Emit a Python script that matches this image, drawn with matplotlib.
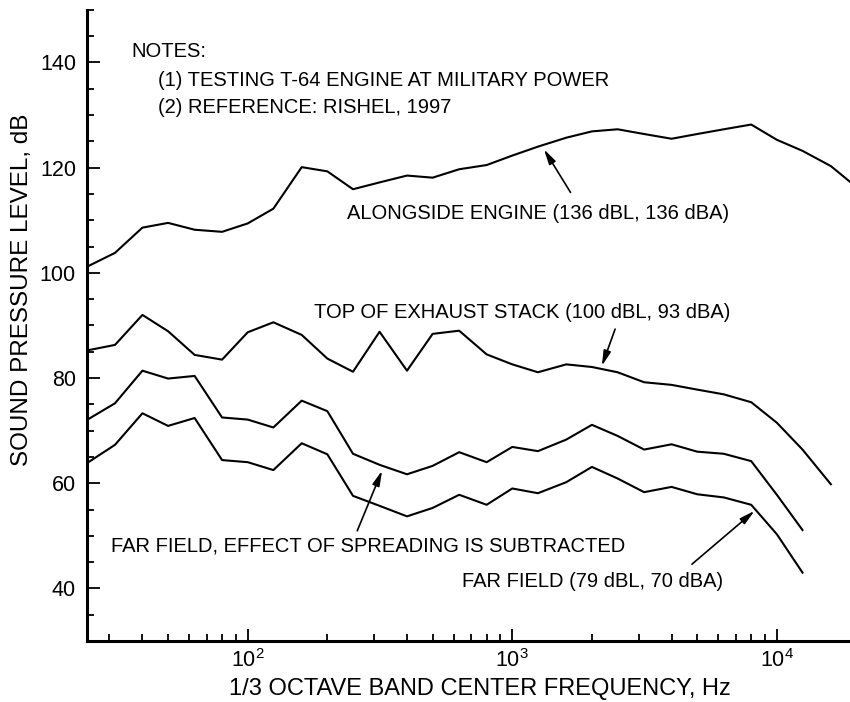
import matplotlib
matplotlib.use('Agg')
import matplotlib.pyplot as plt
from matplotlib.ticker import FixedLocator, LogLocator, MultipleLocator, NullFormatter

plt.rcParams['font.family'] = ['Liberation Sans', 'DejaVu Sans']
plt.rcParams['mathtext.default'] = 'regular'

# 1/3 octave band centre frequencies (Hz)
freq = [25, 31.5, 40, 50, 63, 80, 100, 125, 160, 200, 250, 315, 400, 500,
        630, 800, 1000, 1250, 1600, 2000, 2500, 3150, 4000, 5000, 6300,
        8000, 10000, 12500, 16000, 20000]

# sound pressure levels (dB)
alongside = [101.3, 103.8, 108.6, 109.5, 108.2, 107.8, 109.4, 112.2, 120.1,
             119.3, 115.9, 117.2, 118.5, 118.1, 119.7, 120.5, 122.3, 124.0,
             125.7, 126.9, 127.3, 126.4, 125.5, 126.4, 127.3, 128.2, 125.3,
             123.2, 120.3, 116.3]
exhaust = [85.3, 86.3, 92.0, 88.9, 84.4, 83.5, 88.7, 90.6, 88.2, 83.7, 81.2,
           88.8, 81.4, 88.4, 89.0, 84.5, 82.6, 81.1, 82.6, 82.1, 81.1, 79.2,
           78.7, 77.8, 76.9, 75.4, 71.5, 66.4, 59.8]
far_subtracted = [72.2, 75.2, 81.4, 79.9, 80.4, 72.5, 72.1, 70.6, 75.7, 73.7,
                  65.6, 63.5, 61.7, 63.3, 65.9, 64.0, 66.9, 66.1, 68.3, 71.1,
                  69.0, 66.4, 67.4, 66.0, 65.6, 64.2, 57.8, 51.1]
far_field = [64.0, 67.3, 73.3, 70.9, 72.4, 64.4, 64.0, 62.5, 67.6, 65.5, 57.6,
             55.7, 53.7, 55.3, 57.8, 55.9, 59.0, 58.1, 60.2, 63.1, 60.9, 58.3,
             59.3, 57.9, 57.3, 55.9, 50.3, 43.0]

y_ticks = [40, 60, 80, 100, 120, 140]
x_ticks = [100, 1000, 10000]
x_labels = ['$10^2$', '$10^3$', '$10^4$']

fig = plt.figure(figsize=(8.5, 7.02), dpi=100)
ax = fig.add_axes([0.1024, 0.0869, 0.8976, 0.899])

for series in [alongside, exhaust, far_subtracted, far_field]:
    ax.plot(freq[:len(series)], series, color='black', lw=1.5)

ax.set_xscale('log')
ax.set_xlim(24.7, 18900)
ax.set_ylim(30, 150)

ax.spines['top'].set_visible(False)
ax.spines['right'].set_visible(False)
ax.spines['left'].set_linewidth(2.2)
ax.spines['bottom'].set_linewidth(2.2)

ax.xaxis.set_major_locator(FixedLocator(x_ticks))
ax.set_xticklabels(x_labels)
ax.xaxis.set_minor_locator(LogLocator(base=10, subs=range(2, 10)))
ax.xaxis.set_minor_formatter(NullFormatter())
ax.yaxis.set_major_locator(FixedLocator(y_ticks))
ax.yaxis.set_minor_locator(MultipleLocator(5))
ax.tick_params(which='both', direction='in', width=1.3)
ax.tick_params(which='major', length=9)
ax.tick_params(which='minor', length=5)
ax.tick_params(axis='y', which='major', pad=8, labelsize=15.5)
ax.tick_params(axis='x', which='major', pad=6, labelsize=15.5)

fig.text(0.565, 0.018, '1/3 OCTAVE BAND CENTER FREQUENCY, Hz', fontsize=17,
         ha='center', va='center')
fig.text(0.026, 0.587, 'SOUND PRESSURE LEVEL, dB', fontsize=17.5,
         rotation=90, ha='center', va='center')

fs = 14.5
ax.text(36.3, 142, 'NOTES:', fontsize=fs, va='center')
ax.text(45.7, 136.6, '(1) TESTING T-64 ENGINE AT MILITARY POWER', fontsize=fs, va='center')
ax.text(45.7, 131.4, '(2) REFERENCE: RISHEL, 1997', fontsize=fs, va='center')

arrow = dict(arrowstyle='-|>,head_length=0.9,head_width=0.22', color='black',
             lw=1.2, shrinkA=0, shrinkB=0)
ax.annotate('ALONGSIDE ENGINE (136 dBL, 136 dBA)', xy=(1317, 123.5),
            xytext=(236.4, 111.2), fontsize=fs, va='center')
ax.annotate('', xy=(1317, 123.5), xytext=(1660, 115.3), arrowprops=arrow)

ax.text(178.5, 92.5, 'TOP OF EXHAUST STACK (100 dBL, 93 dBA)', fontsize=fs, va='center')
ax.annotate('', xy=(2180, 82.3), xytext=(2447, 89.3), arrowprops=arrow)

ax.text(30.3, 48.0, 'FAR FIELD, EFFECT OF SPREADING IS SUBTRACTED', fontsize=fs, va='center')
ax.annotate('', xy=(322, 62.4), xytext=(259.4, 50.95), arrowprops=arrow)

ax.text(6287, 41.3, 'FAR FIELD (79 dBL, 70 dBA)', fontsize=fs, va='center', ha='right')
ax.annotate('', xy=(8238, 54.75), xytext=(4775, 44.6), arrowprops=arrow)

fig.savefig('out.png', dpi=100)
